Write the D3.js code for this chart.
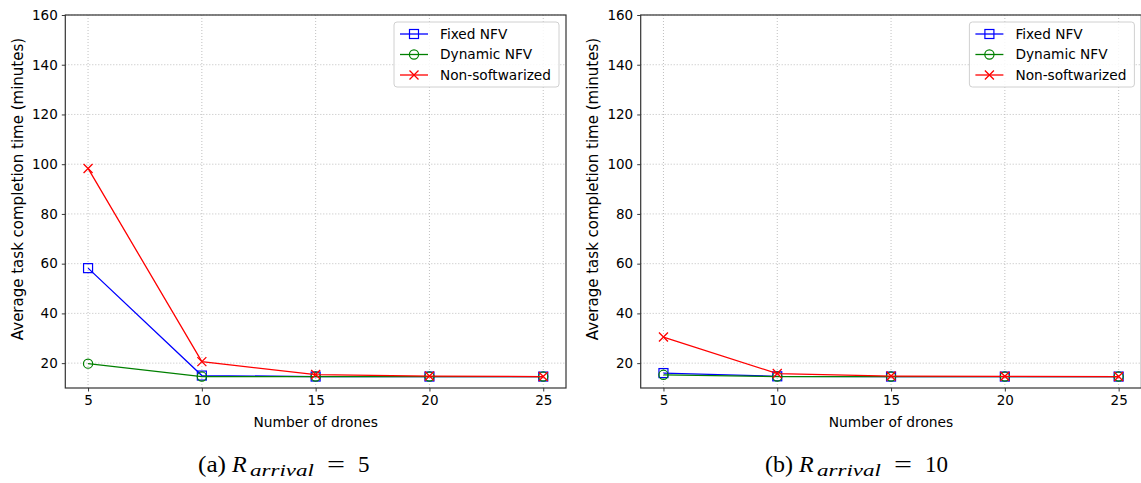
<!DOCTYPE html>
<html>
<head>
<meta charset="utf-8">
<script src="https://cdn.jsdelivr.net/npm/d3@7"></script>
<style>
  html, body { margin: 0; padding: 0; background: #fff; }
  svg { display: block; }
  text { font-family: "DejaVu Sans", sans-serif; fill: #000; }
  .cap { font-family: "Liberation Serif", "DejaVu Serif", serif; }
</style>
</head>
<body>
<svg id="chart" width="1141" height="483"></svg>
<script>
// ---- data ----
const drones = [5, 10, 15, 20, 25];
const seriesNames = ["Fixed NFV", "Dynamic NFV", "Non-softwarized"];
const fixedA   = [58.2, 15.0, 14.6, 14.6, 14.6];
const dynamicA = [19.8, 14.6, 14.6, 14.6, 14.6];
const nonsoftA = [98.3, 20.6, 15.4, 14.8, 14.6];
const fixedB   = [16.0, 14.7, 14.6, 14.6, 14.6];
const dynamicB = [15.3, 14.6, 14.6, 14.6, 14.6];
const nonsoftB = [30.5, 15.8, 14.8, 14.7, 14.6];
const yTicks = [20, 40, 60, 80, 100, 120, 140, 160];
const xTicks = [5, 10, 15, 20, 25];
const captionA = {prefix: "(a)", value: "5"};
const captionB = {prefix: "(b)", value: "10"};
const xLabel = "Number of drones";
const yLabel = "Average task completion time (minutes)";

const colors = ["#0000ff", "#008000", "#ff0000"];
const markers = ["square", "circle", "x"];

const svg = d3.select("#chart");

function drawMarker(g, type, color, x, y) {
  if (type === "square") {
    g.append("rect").attr("x", x - 4.5).attr("y", y - 4.5).attr("width", 9).attr("height", 9)
      .attr("fill", "none").attr("stroke", color).attr("stroke-width", 1.2);
  } else if (type === "circle") {
    g.append("circle").attr("cx", x).attr("cy", y).attr("r", 4.6)
      .attr("fill", "none").attr("stroke", color).attr("stroke-width", 1.2);
  } else {
    const s = 4.5;
    g.append("path").attr("d", `M${x-s},${y-s}L${x+s},${y+s}M${x-s},${y+s}L${x+s},${y-s}`)
      .attr("fill", "none").attr("stroke", color).attr("stroke-width", 1.3);
  }
}

function caption(c, x0) {
  const g = svg.append("g");
  const base = 472;
  g.append("text").attr("class", "cap").attr("x", x0).attr("y", base).attr("font-size", 23)
    .attr("textLength", 28).attr("lengthAdjust", "spacingAndGlyphs").text(c.prefix);
  g.append("text").attr("class", "cap").attr("x", x0 + 34).attr("y", base).attr("font-size", 24)
    .attr("font-style", "italic").text("R");
  g.append("text").attr("class", "cap").attr("x", x0 + 52).attr("y", base + 4).attr("font-size", 17)
    .attr("font-style", "italic").attr("textLength", 64).attr("lengthAdjust", "spacingAndGlyphs").text("arrival");
  g.append("text").attr("class", "cap").attr("x", x0 + 129).attr("y", base).attr("font-size", 24)
    .attr("textLength", 18).attr("lengthAdjust", "spacingAndGlyphs").text("=");
  g.append("text").attr("class", "cap").attr("x", x0 + 160).attr("y", base).attr("font-size", 23)
    .text(c.value);
}

function panel(left, right, top, bottom, seriesData, ylabelX, cap, capX) {
  const x = d3.scaleLinear().domain([4, 26]).range([left, right]);
  const y = d3.scaleLinear().domain([10, 160]).range([bottom, top]);
  const g = svg.append("g");

  // grid
  g.append("g").selectAll("line").data(xTicks).join("line")
    .attr("x1", d => x(d)).attr("x2", d => x(d)).attr("y1", top).attr("y2", bottom)
    .attr("stroke", "#b0b0b0").attr("stroke-width", 0.8).attr("stroke-dasharray", "1,2");
  g.append("g").selectAll("line").data(yTicks).join("line")
    .attr("x1", left).attr("x2", right).attr("y1", d => y(d)).attr("y2", d => y(d))
    .attr("stroke", "#b0b0b0").attr("stroke-width", 0.8).attr("stroke-dasharray", "1,2");

  // axes
  const xAxis = d3.axisBottom(x).tickValues(xTicks).tickSizeInner(3.5).tickSizeOuter(0).tickPadding(4);
  const yAxis = d3.axisLeft(y).tickValues(yTicks).tickSizeInner(3.5).tickSizeOuter(0).tickPadding(4);
  const gx = g.append("g").attr("transform", `translate(0,${bottom})`).call(xAxis);
  const gy = g.append("g").attr("transform", `translate(${left},0)`).call(yAxis);
  [gx, gy].forEach(a => {
    a.select(".domain").remove();
    a.selectAll(".tick line").attr("stroke", "#222").attr("stroke-width", 0.9);
    a.selectAll(".tick text").attr("font-size", 13.5).attr("font-family", "DejaVu Sans").attr("fill", "#000");
  });

  // lines and markers
  const clipId = "clip" + Math.round(left);
  svg.append("clipPath").attr("id", clipId).append("rect")
    .attr("x", left).attr("y", top).attr("width", right - left).attr("height", bottom - top);
  const plot = g.append("g").attr("clip-path", `url(#${clipId})`);
  const line = d3.line().x((d, i) => x(drones[i])).y(d => y(d));
  seriesData.forEach((vals, si) => {
    plot.append("path").datum(vals).attr("d", line)
      .attr("fill", "none").attr("stroke", colors[si]).attr("stroke-width", 1.3);
    vals.forEach((v, i) => drawMarker(plot, markers[si], colors[si], x(drones[i]), y(v)));
  });

  // frame
  g.append("rect").attr("x", left).attr("y", top).attr("width", right - left).attr("height", bottom - top)
    .attr("fill", "none").attr("stroke", "#333").attr("stroke-width", 1.2);

  // labels
  g.append("text").attr("x", (left + right) / 2).attr("y", 427).attr("text-anchor", "middle")
    .attr("font-size", 13.8).text(xLabel);
  g.append("text").attr("transform", `translate(${ylabelX},189) rotate(-90)`)
    .attr("text-anchor", "middle").attr("dy", "0.35em").attr("font-size", 15).text(yLabel);

  // legend
  const lx = right - 172, ly = top + 7, lw = 165, lh = 65;
  const leg = g.append("g");
  leg.append("rect").attr("x", lx).attr("y", ly).attr("width", lw).attr("height", lh).attr("rx", 3)
    .attr("fill", "#fff").attr("fill-opacity", 0.85).attr("stroke", "#d0d0d0").attr("stroke-width", 1);
  seriesNames.forEach((name, i) => {
    const yy = ly + 12 + i * 20.5;
    leg.append("line").attr("x1", lx + 6).attr("x2", lx + 34).attr("y1", yy).attr("y2", yy)
      .attr("stroke", colors[i]).attr("stroke-width", 1.3);
    drawMarker(leg, markers[i], colors[i], lx + 20, yy);
    leg.append("text").attr("x", lx + 46).attr("y", yy).attr("dy", "0.36em")
      .attr("font-size", 13.7).text(name);
  });

  caption(cap, capX);
}

panel(65.3, 566, 15, 388, [fixedA, dynamicA, nonsoftA], 17.5, captionA, 198);
panel(640.7, 1141.4, 15, 388, [fixedB, dynamicB, nonsoftB], 592.5, captionB, 765);
</script>
</body>
</html>
